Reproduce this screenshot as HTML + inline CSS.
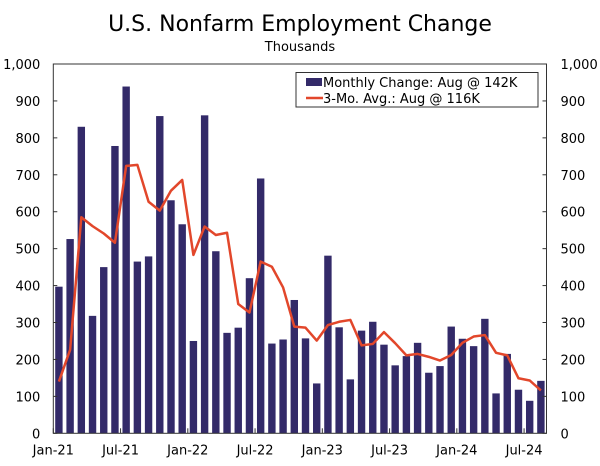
<!DOCTYPE html>
<html><head><meta charset="utf-8"><style>
body{margin:0;background:#fff;}
svg text{font-family:"DejaVu Sans","Liberation Sans",sans-serif;fill:#000;}
</style></head><body>
<svg width="600" height="461" xmlns="http://www.w3.org/2000/svg">
<text x="300" y="31" text-anchor="middle" font-size="22">U.S. Nonfarm Employment Change</text>
<text x="300" y="51" text-anchor="middle" font-size="13">Thousands</text>
<g id="plot"></g>
<g>
<rect x="296" y="72.5" width="242" height="34.5" fill="#fff" stroke="#333" stroke-width="1"/>
<rect x="306" y="78" width="16" height="8" fill="#332a69"/>
<text x="323" y="87" font-size="13">Monthly Change: Aug @ 142K</text>
<line x1="306" y1="98" x2="323" y2="98" stroke="#e2472b" stroke-width="2.5"/>
<text x="323" y="103" font-size="13">3-Mo. Avg.: Aug @ 116K</text>
</g>
</svg>
<script>
const months = ["Jan-21","Feb-21","Mar-21","Apr-21","May-21","Jun-21","Jul-21","Aug-21","Sep-21","Oct-21","Nov-21","Dec-21","Jan-22","Feb-22","Mar-22","Apr-22","May-22","Jun-22","Jul-22","Aug-22","Sep-22","Oct-22","Nov-22","Dec-22","Jan-23","Feb-23","Mar-23","Apr-23","May-23","Jun-23","Jul-23","Aug-23","Sep-23","Oct-23","Nov-23","Dec-23","Jan-24","Feb-24","Mar-24","Apr-24","May-24","Jun-24","Jul-24","Aug-24"];
const monthly = [397,526,830,318,450,778,939,465,479,859,631,566,250,861,493,272,286,420,690,243,254,361,257,135,481,287,146,278,302,240,184,209,245,164,182,289,256,236,310,108,215,118,88,142];
const avg3 = [140,226,585,561,541,516,724,727,627,603,657,686,483,560,537,543,350,327,465,451,395,289,286,251,293,302,307,238,242,274,244,211,215,207,197,212,245,262,266,218,211,149,143,116];
const yTicks = [0,100,200,300,400,500,600,700,800,900,1000];
const yTickLabels = ["0","100","200","300","400","500","600","700","800","900","1,000"];
const xLabelIdx = [0,6,12,18,24,30,36,42];

const NS="http://www.w3.org/2000/svg";
const L=53.3,R=546.5,T=64,B=433.3;
const slot=(R-L)/months.length;
const x=i=>L+slot*(i+0.5);
const y=v=>B-(v/1000)*(B-T);
const g=document.getElementById('plot');
function mk(t,a){const e=document.createElementNS(NS,t);for(const k in a)e.setAttribute(k,a[k]);g.appendChild(e);return e;}

monthly.forEach((v,i)=>{
  const r=mk('rect',{x:x(i)-3.7,y:y(v),width:7.4,height:B-y(v),fill:'#332a69'});
  
  
});
const ln=mk('polyline',{points:avg3.map((v,i)=>x(i)+','+y(v)).join(' '),fill:'none',stroke:'#e2472b','stroke-width':2.5,'stroke-linejoin':'round'});



const box=mk('rect',{x:L,y:T,width:R-L,height:B-T,fill:'none',stroke:'#333','stroke-width':1});



yTicks.forEach((v,i)=>{
  mk('line',{x1:L,x2:L+4,y1:y(v),y2:y(v),stroke:'#333'});
  mk('line',{x1:R-4,x2:R,y1:y(v),y2:y(v),stroke:'#333'});
  const t1=mk('text',{x:L-13,y:y(v)+5,'text-anchor':'end','font-size':13});
  t1.textContent=yTickLabels[i];
  
  
  const t2=mk('text',{x:R+14,y:y(v)+5,'text-anchor':'start','font-size':13});
  t2.textContent=yTickLabels[i];
  
  
});
xLabelIdx.forEach(i=>{
  const xt=L+slot*i;
  mk('line',{x1:xt,x2:xt,y1:B,y2:B-5,stroke:'#333'});
  const t=mk('text',{x:xt,y:B+21,'text-anchor':'middle','font-size':13});
  t.textContent=months[i];
  
  
});
</script>
</body></html>
